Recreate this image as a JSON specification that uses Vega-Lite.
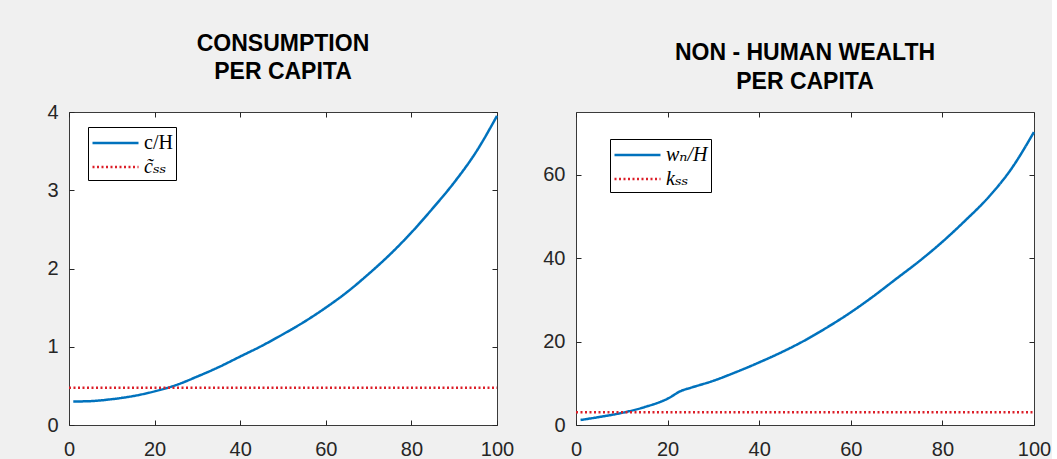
{
  "$schema": "https://vega.github.io/schema/vega-lite/v6.json",
  "background": "#f0f0f0",
  "padding": {"left": 46, "top": 32, "right": 0, "bottom": 0},
  "spacing": 79,
  "bounds": "flush",
  "datasets": {
    "cons": [
      {"t": 1, "v": 0.30, "s": "c/H"},
      {"t": 5, "v": 0.305, "s": "c/H"},
      {"t": 10, "v": 0.33, "s": "c/H"},
      {"t": 15, "v": 0.37, "s": "c/H"},
      {"t": 20, "v": 0.43, "s": "c/H"},
      {"t": 25, "v": 0.51, "s": "c/H"},
      {"t": 30, "v": 0.62, "s": "c/H"},
      {"t": 35, "v": 0.74, "s": "c/H"},
      {"t": 40, "v": 0.875, "s": "c/H"},
      {"t": 45, "v": 1.01, "s": "c/H"},
      {"t": 50, "v": 1.16, "s": "c/H"},
      {"t": 55, "v": 1.32, "s": "c/H"},
      {"t": 60, "v": 1.50, "s": "c/H"},
      {"t": 65, "v": 1.70, "s": "c/H"},
      {"t": 70, "v": 1.93, "s": "c/H"},
      {"t": 75, "v": 2.18, "s": "c/H"},
      {"t": 80, "v": 2.46, "s": "c/H"},
      {"t": 85, "v": 2.77, "s": "c/H"},
      {"t": 90, "v": 3.10, "s": "c/H"},
      {"t": 95, "v": 3.48, "s": "c/H"},
      {"t": 100, "v": 3.95, "s": "c/H"},
      {"t": 0, "v": 0.475, "s": "c\u0303\u209b\u209b"},
      {"t": 100, "v": 0.475, "s": "c\u0303\u209b\u209b"}
    ],
    "wealth": [
      {"t": 1, "v": 1.2, "s": "w\u2099/H"},
      {"t": 5, "v": 1.9, "s": "w\u2099/H"},
      {"t": 10, "v": 2.9, "s": "w\u2099/H"},
      {"t": 15, "v": 4.3, "s": "w\u2099/H"},
      {"t": 20, "v": 6.3, "s": "w\u2099/H"},
      {"t": 23, "v": 8.2, "s": "w\u2099/H"},
      {"t": 25, "v": 8.9, "s": "w\u2099/H"},
      {"t": 30, "v": 10.6, "s": "w\u2099/H"},
      {"t": 35, "v": 12.7, "s": "w\u2099/H"},
      {"t": 40, "v": 15.0, "s": "w\u2099/H"},
      {"t": 45, "v": 17.5, "s": "w\u2099/H"},
      {"t": 50, "v": 20.3, "s": "w\u2099/H"},
      {"t": 55, "v": 23.5, "s": "w\u2099/H"},
      {"t": 60, "v": 27.0, "s": "w\u2099/H"},
      {"t": 65, "v": 30.9, "s": "w\u2099/H"},
      {"t": 70, "v": 35.1, "s": "w\u2099/H"},
      {"t": 75, "v": 39.3, "s": "w\u2099/H"},
      {"t": 80, "v": 43.9, "s": "w\u2099/H"},
      {"t": 85, "v": 49.0, "s": "w\u2099/H"},
      {"t": 90, "v": 54.5, "s": "w\u2099/H"},
      {"t": 95, "v": 61.3, "s": "w\u2099/H"},
      {"t": 100, "v": 70.2, "s": "w\u2099/H"},
      {"t": 0, "v": 3.05, "s": "k\u209b\u209b"},
      {"t": 100, "v": 3.05, "s": "k\u209b\u209b"}
    ]
  },
  "config": {
    "view": {"stroke": "#3a3a3a", "strokeWidth": 1, "fill": "white"},
    "axis": {
      "grid": false,
      "domain": false,
      "labelFont": "Liberation Sans",
      "labelFontSize": 20,
      "labelColor": "#262626",
      "tickColor": "#262626",
      "tickSize": -5,
      "tickWidth": 1,
      "labelPadding": 16,
      "labelFlush": false,
      "labelOverlap": false,
      "title": null
    },
    "axisX": {"labelPadding": 19},
    "title": {
      "font": "Liberation Sans",
      "fontSize": 23,
      "fontWeight": "bold",
      "color": "#000000",
      "lineHeight": 28.5,
      "offset": 18,
      "anchor": "middle",
      "frame": "group"
    },
    "legend": {
      "orient": "none",
      "title": null,
      "strokeColor": "#000000",
      "fillColor": "#ffffff",
      "padding": 3,
      "symbolType": "M-1,0H3",
      "symbolSize": 529,
      "symbolStrokeWidth": 2.5,
      "labelFont": "Liberation Serif, DejaVu Serif",
      "labelFontSize": 20,
      "labelColor": "#000000",
      "labelOffset": 27,
      "rowPadding": 1
    }
  },
  "resolve": {
    "scale": {"color": "independent", "strokeDash": "independent"},
    "legend": {"color": "independent", "strokeDash": "independent"}
  },
  "hconcat": [
    {
      "width": 428,
      "height": 313,
      "title": {"text": ["CONSUMPTION", "PER CAPITA"]},
      "data": {"name": "cons"},
      "layer": [
        {
          "mark": {"type": "line", "interpolate": "monotone", "strokeWidth": 2.5},
          "encoding": {
            "x": {"field": "t", "type": "quantitative", "scale": {"domain": [0, 100], "nice": false},
                  "axis": {"values": [0, 20, 40, 60, 80, 100]}},
            "y": {"field": "v", "type": "quantitative", "scale": {"domain": [0, 4], "nice": false},
                  "axis": {"values": [0, 1, 2, 3, 4]}},
            "color": {"field": "s", "type": "nominal",
                      "scale": {"domain": ["c/H", "c\u0303\u209b\u209b"], "range": ["#0072BD", "#dc1e28"]},
                      "legend": {"legendX": 19, "legendY": 15,
                                 "encode": {"labels": {"update": {"fontStyle": {"signal": "datum.value === 'c/H' ? 'normal' : 'italic'"}}}}}},
            "strokeDash": {"field": "s", "type": "nominal",
                           "scale": {"domain": ["c/H", "c\u0303\u209b\u209b"], "range": [[1, 0], [2, 2.5]]}}
          }
        },
        {
          "mark": {"type": "point", "opacity": 0},
          "encoding": {
            "x": {"field": "t", "type": "quantitative", "axis": {"orient": "top", "labels": false, "values": [0, 20, 40, 60, 80, 100]}},
            "y": {"field": "v", "type": "quantitative", "axis": {"orient": "right", "labels": false, "values": [0, 1, 2, 3, 4]}}
          }
        }
      ],
      "resolve": {"axis": {"x": "independent", "y": "independent"}}
    },
    {
      "width": 458,
      "height": 313,
      "title": {"text": ["NON - HUMAN WEALTH", "PER CAPITA"]},
      "data": {"name": "wealth"},
      "layer": [
        {
          "mark": {"type": "line", "interpolate": "monotone", "strokeWidth": 2.5},
          "encoding": {
            "x": {"field": "t", "type": "quantitative", "scale": {"domain": [0, 100], "nice": false},
                  "axis": {"values": [0, 20, 40, 60, 80, 100]}},
            "y": {"field": "v", "type": "quantitative", "scale": {"domain": [0, 75], "nice": false},
                  "axis": {"values": [0, 20, 40, 60]}},
            "color": {"field": "s", "type": "nominal",
                      "scale": {"domain": ["w\u2099/H", "k\u209b\u209b"], "range": ["#0072BD", "#dc1e28"]},
                      "legend": {"legendX": 34, "legendY": 27, "labelFontStyle": "italic"}},
            "strokeDash": {"field": "s", "type": "nominal",
                           "scale": {"domain": ["w\u2099/H", "k\u209b\u209b"], "range": [[1, 0], [2, 2.5]]}}
          }
        },
        {
          "mark": {"type": "point", "opacity": 0},
          "encoding": {
            "x": {"field": "t", "type": "quantitative", "axis": {"orient": "top", "labels": false, "values": [0, 20, 40, 60, 80, 100]}},
            "y": {"field": "v", "type": "quantitative", "axis": {"orient": "right", "labels": false, "values": [0, 20, 40, 60]}}
          }
        }
      ],
      "resolve": {"axis": {"x": "independent", "y": "independent"}}
    }
  ]
}
